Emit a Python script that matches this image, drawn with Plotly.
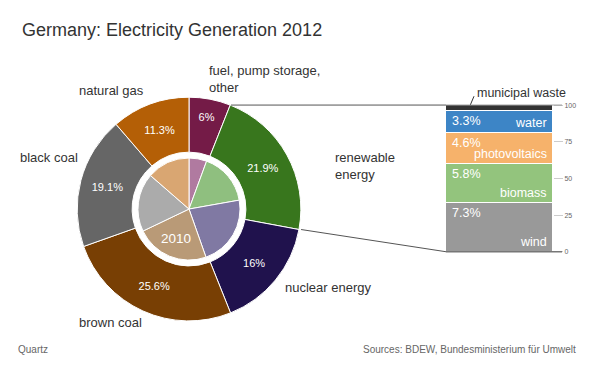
import math
import plotly.graph_objects as go

W, H = 600, 371

# ---------------- data ----------------
categories = ["fuel, pump storage, other", "renewable energy", "nuclear energy",
              "brown coal", "black coal", "natural gas"]
share_2012 = [6.0, 21.9, 16.0, 25.6, 19.1, 11.3]
share_2010 = [5.6, 16.6, 22.4, 23.3, 18.5, 13.6]
pct_labels_2012 = ["6%", "21.9%", "16%", "25.6%", "19.1%", "11.3%"]
colors_2012 = ["#741b47", "#38761d", "#20124d", "#783f04", "#666666", "#b45f06"]
colors_2010 = ["#b07aa0", "#8fbf7f", "#8079a3", "#b99a77", "#ababab", "#d9a672"]

renew_sources = ["wind", "biomass", "photovoltaics", "water", "municipal waste"]
renew_values = [7.3, 5.8, 4.6, 3.3, 0.9]
renew_pct_labels = ["7.3%", "5.8%", "4.6%", "3.3%", ""]
renew_colors = ["#999999", "#93c47d", "#f6b26b", "#3d85c6", "#333333"]
bar_ticks = [0, 25, 50, 75, 100]

# ---------------- geometry (pixels) ----------------
FONT = "Liberation Sans, Arial, sans-serif"
cx, cy = 189, 209          # pie centre
R_out, R_hole, R_in = 114, 58, 52
bar_x0, bar_x1 = 446, 553
bar_y0, bar_y1 = 252.5, 103  # pixel y of 0 and 100


def px(x):
    return x / W


def py(y):
    return 1 - y / H


def pie_domain(r):
    return dict(x=[px(cx - r), px(cx + r)], y=[py(cy + r), py(cy - r)])


fig = go.Figure()

# outer donut: 2012
fig.add_trace(go.Pie(
    labels=categories, values=share_2012, text=pct_labels_2012,
    textinfo="text", textposition="inside", insidetextorientation="horizontal",
    textfont=dict(color="white", size=11, family=FONT),
    marker=dict(colors=colors_2012, line=dict(color="white", width=1)),
    hole=R_hole / R_out, sort=False, direction="clockwise", rotation=0,
    domain=pie_domain(R_out), showlegend=False, hoverinfo="label+text",
    automargin=False,
))

# inner pie: 2010
fig.add_trace(go.Pie(
    labels=categories, values=share_2010, textinfo="none",
    marker=dict(colors=colors_2010, line=dict(color="white", width=1)),
    sort=False, direction="clockwise", rotation=0,
    domain=pie_domain(R_in), showlegend=False, hoverinfo="label+percent",
    automargin=False,
))

# stacked renewable bar (normalised to 100)
total_renew = sum(renew_values)
renew_norm = [v / total_renew * 100 for v in renew_values]
for name, v, c in zip(renew_sources, renew_norm, renew_colors):
    fig.add_trace(go.Bar(
        x=[0], y=[v], width=1, name=name,
        marker=dict(color=c, line=dict(color="white", width=1)),
        showlegend=False, hoverinfo="name",
    ))

ydom = [py(bar_y0), py(bar_y1)]


def bar_py(v):
    return ydom[0] + v / 100 * (ydom[1] - ydom[0])


annotations = []
shapes = []

# bar text
cum = 0
for name, v, lab in zip(renew_sources, renew_norm, renew_pct_labels):
    lo, hi = cum, cum + v
    cum = hi
    if name == "municipal waste":
        continue
    annotations.append(dict(x=px(bar_x0), y=bar_py(hi), xref="paper", yref="paper",
                            text=lab, showarrow=False, xanchor="left", yanchor="top",
                            xshift=4, yshift=-1,
                            font=dict(color="white", size=12.5, family=FONT)))
    annotations.append(dict(x=px(bar_x1), y=bar_py(lo), xref="paper", yref="paper",
                            text=name, showarrow=False, xanchor="right", yanchor="bottom",
                            xshift=-4, yshift=1,
                            font=dict(color="white", size=12.5, family=FONT)))

# municipal waste label
annotations.append(dict(x=px(475), y=py(91), xref="paper", yref="paper",
                        text="municipal waste", showarrow=False, xanchor="left",
                        yanchor="middle", font=dict(color="#333333", size=12.5, family=FONT)))
shapes.append(dict(type="line", xref="paper", yref="paper",
                   x0=px(469), y0=bar_py(100 - renew_norm[-1] / 2), x1=px(474), y1=py(94),
                   line=dict(color="#333333", width=1)))

# baseline / top lines of the bar
shapes.append(dict(type="line", xref="paper", yref="paper", x0=px(bar_x0), x1=px(562),
                   y0=bar_py(100), y1=bar_py(100), line=dict(color="#999999", width=1)))
shapes.append(dict(type="line", xref="paper", yref="paper", x0=px(bar_x0), x1=px(562),
                   y0=bar_py(0), y1=bar_py(0), line=dict(color="#777777", width=1.5)))

# connector lines from the renewable slice edges to the bar
tot = sum(share_2012)
a1 = 2 * math.pi * share_2012[0] / tot
a2 = 2 * math.pi * (share_2012[0] + share_2012[1]) / tot
for a, v in [(a1, 100), (a2, 0)]:
    sx = cx + R_out * math.sin(a)
    sy = cy - R_out * math.cos(a)
    shapes.append(dict(type="line", xref="paper", yref="paper",
                       x0=px(sx), y0=py(sy), x1=px(bar_x0), y1=bar_py(v),
                       line=dict(color="#555555", width=1)))

# outside pie labels
pie_labels = [
    ("fuel, pump storage,<br>other", 207, 76),
    ("natural gas", 77, 88),
    ("black coal", 18, 156),
    ("brown coal", 77, 325),
    ("nuclear energy", 283, 289),
    ("renewable<br>energy", 333, 165),
]
for t, x, y in pie_labels:
    annotations.append(dict(x=px(x), y=py(y), xref="paper", yref="paper", text=t,
                            showarrow=False, xanchor="left", yanchor="middle", align="left",
                            font=dict(color="#333333", size=13, family=FONT)))

# inner pie year label
annotations.append(dict(x=px(176), y=py(239), xref="paper", yref="paper", text="2010",
                        showarrow=False, xanchor="center", yanchor="middle",
                        font=dict(color="white", size=13.5, family=FONT)))

# title and footer
annotations.append(dict(x=px(20), y=py(27), xref="paper", yref="paper",
                        text="Germany: Electricity Generation 2012", showarrow=False,
                        xanchor="left", yanchor="middle",
                        font=dict(color="#333333", size=18, family=FONT)))
annotations.append(dict(x=px(16), y=py(352), xref="paper", yref="paper", text="Quartz",
                        showarrow=False, xanchor="left", yanchor="middle",
                        font=dict(color="#666666", size=10, family=FONT)))
annotations.append(dict(x=px(578), y=py(352), xref="paper", yref="paper",
                        text="Sources: BDEW, Bundesministerium für Umwelt", showarrow=False,
                        xanchor="right", yanchor="middle",
                        font=dict(color="#666666", size=10, family=FONT)))

fig.update_layout(
    width=W, height=H, margin=dict(l=0, r=0, t=0, b=0),
    paper_bgcolor="white", plot_bgcolor="white",
    barmode="stack", bargap=0,
    xaxis=dict(domain=[px(bar_x0), px(bar_x1)], range=[-0.5, 0.5], visible=False,
               fixedrange=True),
    yaxis=dict(domain=ydom, range=[0, 100], side="right", tickvals=bar_ticks,
               ticks="outside", ticklen=9, tickcolor="#cccccc", showgrid=False,
               zeroline=False, showline=False,
               tickfont=dict(color="#666666", size=7, family=FONT), fixedrange=True),
    annotations=annotations, shapes=shapes,
    font=dict(family=FONT),
)

fig.write_html("out.html", config={"displayModeBar": False},
               post_script="document.body.style.margin='0';document.body.style.overflow='hidden';")
